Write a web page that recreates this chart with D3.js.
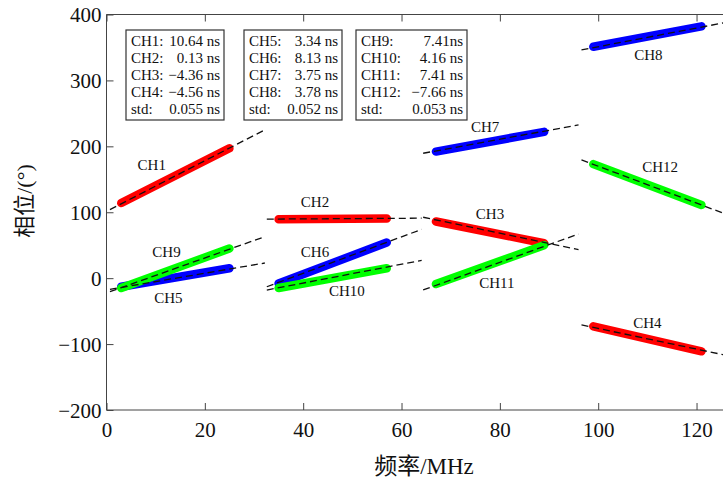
<!DOCTYPE html>
<html>
<head>
<meta charset="utf-8">
<script src="https://cdn.jsdelivr.net/npm/d3@7"></script>
<style>
    body { margin: 0; background: #fff; }
    text { font-family: "Liberation Serif", "Noto Sans CJK SC", serif; fill: #111; }
</style>
</head>
<body>
<div id="phase-chart"></div>
<script>
// channel data (frequency in MHz, phase in degrees)
var channels = ["CH1", "CH2", "CH3", "CH4", "CH5", "CH6", "CH7", "CH8", "CH9", "CH10", "CH11", "CH12"];
var chSet = [1, 1, 1, 1, 2, 2, 2, 2, 3, 3, 3, 3];

var freqStart = [3, 35, 67, 99, 3, 35, 67, 99, 3, 35, 67, 99];
var freqEnd = [25, 57, 89, 121, 25, 57, 89, 121, 25, 57, 89, 121];
var phaseStart = [114, 89.5, 86, -73, -13, -8, 192, 351, -15, -15, -9, 173];
var phaseEnd = [197, 90.5, 53, -111, 15, 54, 222, 382, 45, 15, 50, 111];

// fitted lines
var fitFreqStart = [0.7, 32.6, 64.4, 96.6, 0.7, 32.6, 64.4, 96.6, 0.7, 32.6, 64.4, 96.6];
var fitFreqEnd = [32.2, 64.1, 96, 126, 32.2, 64.1, 96, 126, 32.2, 64.1, 96, 126];
var fitPhaseStart = [104, 89.6, 92.4, -71, -17, -13, 189.5, 346.3, -20.5, -18, -17.9, 179.4];
var fitPhaseEnd = [225, 91, 43.4, -117, 23, 74, 232.5, 388, 63, 27, 67, 97];

// where the channel names sit
var labelFreq = [9.2, 42.4, 78, 110, 12.6, 42.4, 77, 110.2, 12.2, 48.9, 79.4, 112.6];
var labelPhase = [172, 116, 97, -68, -30, 40, 230, 339, 40, -20, -8, 169];

// delay boxes
var delayText = ["10.64 ns", "0.13 ns", "\u22124.36 ns", "\u22124.56 ns",
                 "3.34 ns", "8.13 ns", "3.75 ns", "3.78 ns",
                 "7.41ns", "4.16 ns", "7.41 ns", "\u22127.66 ns"];
var stdText = ["0.055 ns", "0.052 ns", "0.053 ns"];

var xTicks = [0, 20, 40, 60, 80, 100, 120];
var yTicks = [-200, -100, 0, 100, 200, 300, 400];

var width = 723;
var height = 484;
var margin = { top: 14.5, left: 106.5, bottom: 74, right: 0 };
var boundedHeight = height - margin.top - margin.bottom;

var xScale = d3.scaleLinear().domain([0, 126]).range([0, 126 * 4.917]);
var yScale = d3.scaleLinear().domain([-200, 400]).range([boundedHeight, 0]);
var colorScale = d3.scaleOrdinal().domain([1, 2, 3]).range(["#ff0000", "#0000ff", "#00ff00"]);

var svg = d3.select("#phase-chart").append("svg")
    .attr("width", width)
    .attr("height", height);

var bounds = svg.append("g")
    .attr("transform", `translate(${margin.left}, ${margin.top})`);

var rows = channels.map(function (name, i) {
    return {
        name: name, set: chSet[i],
        band: [[freqStart[i], phaseStart[i]], [freqEnd[i], phaseEnd[i]]],
        fit: [[fitFreqStart[i], fitPhaseStart[i]], [fitFreqEnd[i], fitPhaseEnd[i]]],
        lx: labelFreq[i], ly: labelPhase[i]
    };
});

var line = d3.line().x(d => xScale(d[0])).y(d => yScale(d[1]));

// measured points: dense markers drawn as a thick band
bounds.selectAll(".band")
    .data(rows).enter()
    .append("path")
    .attr("class", "band")
    .attr("d", d => line(d.band))
    .attr("stroke", d => colorScale(d.set))
    .attr("stroke-width", 8.5)
    .attr("stroke-linecap", "round")
    .attr("fill", "none");

bounds.selectAll(".fit")
    .data(rows).enter()
    .append("path")
    .attr("class", "fit")
    .attr("d", d => line(d.fit))
    .attr("stroke", "#111")
    .attr("stroke-width", 1.3)
    .attr("stroke-dasharray", "7,4")
    .attr("fill", "none");

bounds.selectAll(".chLabel")
    .data(rows).enter()
    .append("text")
    .attr("class", "chLabel")
    .attr("x", d => xScale(d.lx))
    .attr("y", d => yScale(d.ly))
    .attr("text-anchor", "middle")
    .attr("dominant-baseline", "central")
    .style("font-size", "15px")
    .text(d => d.name);

// frame
var axisColor = "#444";
bounds.append("line")
    .attr("x1", 0).attr("x2", 0).attr("y1", 0).attr("y2", boundedHeight)
    .attr("stroke", axisColor);
bounds.append("line")
    .attr("x1", 0).attr("x2", width).attr("y1", boundedHeight).attr("y2", boundedHeight)
    .attr("stroke", axisColor);
bounds.append("line")
    .attr("x1", 0).attr("x2", width).attr("y1", 0).attr("y2", 0)
    .attr("stroke", axisColor);

// ticks (inside, mirrored on top)
var xAxisBottom = d3.axisBottom(xScale).tickValues(xTicks).tickSizeInner(-7).tickSizeOuter(0).tickPadding(12);
var xAxisTop = d3.axisTop(xScale).tickValues(xTicks).tickSizeInner(-7).tickSizeOuter(0).tickFormat("");
var yAxis = d3.axisLeft(yScale).tickValues(yTicks).tickSizeInner(-7).tickSizeOuter(0).tickPadding(5);

var gx = bounds.append("g")
    .attr("transform", `translate(0, ${boundedHeight})`)
    .call(xAxisBottom);
var gxTop = bounds.append("g").call(xAxisTop);
var gy = bounds.append("g").call(yAxis);

[gx, gxTop, gy].forEach(function (g) {
    g.select(".domain").remove();
    g.selectAll(".tick line").attr("stroke", axisColor);
    g.selectAll("text")
        .attr("fill", "#111")
        .style("font-family", "Liberation Serif, serif")
        .style("font-size", "21px");
});
gy.selectAll("text").attr("dy", "0.35em");

// delay boxes
var boxX = [126, 244, 356];
var boxW = [98, 98, 111];
var boxTop = 30;
var boxH = 90;
var lineGap = 17;

boxX.forEach(function (bx, b) {
    var g = svg.append("g").attr("transform", `translate(${bx}, ${boxTop})`);
    g.append("rect")
        .attr("width", boxW[b])
        .attr("height", boxH)
        .attr("fill", "#fff")
        .attr("stroke", "#333")
        .attr("stroke-width", 1.2);
    var names = channels.slice(b * 4, b * 4 + 4).map(n => n + ":").concat(["std:"]);
    var vals = delayText.slice(b * 4, b * 4 + 4).concat([stdText[b]]);
    names.forEach(function (n, k) {
        g.append("text")
            .attr("x", 5)
            .attr("y", 11 + k * lineGap)
            .attr("dominant-baseline", "central")
            .style("font-size", "15px")
            .text(n);
        g.append("text")
            .attr("x", boxW[b] - 4)
            .attr("y", 11 + k * lineGap)
            .attr("text-anchor", "end")
            .attr("dominant-baseline", "central")
            .style("font-size", "15px")
            .text(vals[k]);
    });
});

// axis titles
svg.append("text")
    .attr("transform", "translate(24, 201) rotate(-90)")
    .attr("text-anchor", "middle")
    .attr("dominant-baseline", "central")
    .style("font-size", "22px")
    .text("相位/(°)");

svg.append("text")
    .attr("x", 424)
    .attr("y", 466)
    .attr("text-anchor", "middle")
    .attr("dominant-baseline", "central")
    .style("font-size", "23px")
    .text("频率/MHz");
</script>
</body>
</html>
